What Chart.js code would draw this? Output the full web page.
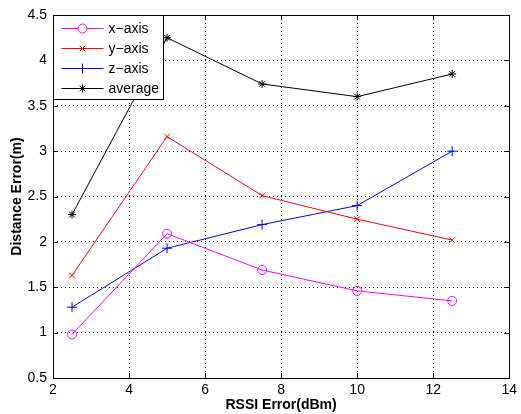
<!DOCTYPE html>
<html>
<head>
<meta charset="utf-8">
<script src="https://cdn.jsdelivr.net/npm/chart.js@4/dist/chart.umd.min.js"></script>
<style>
  html, body { margin: 0; padding: 0; background: #fff; }
  #wrap { width: 521px; height: 414px; }
</style>
</head>
<body>
<div id="wrap"><canvas id="chart" width="521" height="414"></canvas></div>
<script>
// --- DATA ---
const rssiError = [2.5, 5, 7.5, 10, 12.5];
const xAxisErr = [0.98, 2.09, 1.69, 1.46, 1.35];
const yAxisErr = [1.63, 3.16, 2.51, 2.25, 2.02];
const zAxisErr = [1.28, 1.93, 2.19, 2.40, 3.00];
const avgErr = [2.30, 4.25, 3.74, 3.60, 3.85];
const seriesNames = ['x\u2212axis', 'y\u2212axis', 'z\u2212axis', 'average'];
const xTicks = [2, 4, 6, 8, 10, 12, 14];
const yTicks = [0.5, 1, 1.5, 2, 2.5, 3, 3.5, 4, 4.5];

const FONT = '"Liberation Sans", Arial, sans-serif';

function toPoints(vals) {
    return rssiError.map((x, i) => ({ x: x, y: vals[i] }));
}

function makeSet(label, vals, color, style, radius) {
    return {
        label: label,
        data: toPoints(vals),
        borderColor: color,
        backgroundColor: color,
        borderWidth: 1,
        showLine: true,
        pointStyle: style,
        pointRadius: radius,
        pointBorderWidth: 1,
        pointBackgroundColor: 'rgba(0,0,0,0)',
        tension: 0
    };
}

// box, inner ticks and in-plot legend like matlab
const matlabFrame = {
    id: 'matlabFrame',
    afterDraw(chart) {
        const ctx = chart.ctx;
        const a = chart.chartArea;
        const xs = chart.scales.x, ys = chart.scales.y;
        ctx.save();
        ctx.strokeStyle = '#000';
        ctx.lineWidth = 1;
        ctx.setLineDash([]);
        ctx.strokeRect(Math.round(a.left) + 0.5, Math.round(a.top) + 0.5,
            Math.round(a.right - a.left), Math.round(a.bottom - a.top));
        const tl = 5;
        ctx.beginPath();
        xTicks.forEach(v => {
            const px = Math.round(xs.getPixelForValue(v)) + 0.5;
            ctx.moveTo(px, a.bottom); ctx.lineTo(px, a.bottom - tl);
            ctx.moveTo(px, a.top); ctx.lineTo(px, a.top + tl);
        });
        yTicks.forEach(v => {
            const py = Math.round(ys.getPixelForValue(v)) + 0.5;
            ctx.moveTo(a.left, py); ctx.lineTo(a.left + tl, py);
            ctx.moveTo(a.right, py); ctx.lineTo(a.right - tl, py);
        });
        ctx.stroke();

        // legend box
        const bx = Math.round(a.left) + 0.5, by = Math.round(a.top) + 0.5;
        const bw = 110, bh = 84;
        ctx.fillStyle = '#fff';
        ctx.fillRect(bx, by, bw, bh);
        ctx.strokeRect(bx, by, bw, bh);
        ctx.font = '14px ' + FONT;
        ctx.textBaseline = 'middle';
        chart.data.datasets.forEach((ds, i) => {
            const cy = by + 13 + i * 20;
            ctx.strokeStyle = ds.borderColor;
            ctx.beginPath();
            ctx.moveTo(bx + 8, cy); ctx.lineTo(bx + 50, cy);
            ctx.stroke();
            Chart.helpers.drawPoint(ctx, {
                pointStyle: ds.pointStyle, radius: ds.pointRadius, borderWidth: 1
            }, bx + 29, cy);
            ctx.fillStyle = '#000';
            ctx.fillText(ds.label, bx + 55, cy + 1);
        });
        ctx.restore();
    }
};

const gridOpts = { color: '#000', lineWidth: 1, drawTicks: false };

new Chart(document.getElementById('chart'), {
    type: 'scatter',
    data: {
        datasets: [
            makeSet(seriesNames[0], xAxisErr, '#ff00ff', 'circle', 4.5),
            makeSet(seriesNames[1], yAxisErr, '#ff0000', 'crossRot', 4),
            makeSet(seriesNames[2], zAxisErr, '#0000ff', 'cross', 5),
            makeSet(seriesNames[3], avgErr, '#000000', 'star', 4)
        ]
    },
    options: {
        responsive: false,
        animation: false,
        layout: { padding: { top: 15, right: 8, left: 0, bottom: 0 } },
        plugins: { legend: { display: false }, tooltip: { enabled: false } },
        scales: {
            x: {
                type: 'linear', min: 2, max: 14,
                afterBuildTicks: s => { s.ticks = xTicks.map(v => ({ value: v })); },
                afterFit: s => { s.height = 36; },
                grid: gridOpts,
                border: { display: false, dash: [1, 3] },
                ticks: { color: '#000', padding: 4, font: { family: FONT, size: 14 }, callback: v => String(v), maxRotation: 0 },
                title: { display: true, text: 'RSSI Error(dBm)', color: '#000', padding: 0, font: { family: FONT, size: 14, weight: 'bold' } }
            },
            y: {
                type: 'linear', min: 0.5, max: 4.5,
                afterBuildTicks: s => { s.ticks = yTicks.map(v => ({ value: v })); },
                afterFit: s => { s.width = 53; },
                grid: gridOpts,
                border: { display: false, dash: [1, 3] },
                ticks: { color: '#000', padding: 6, font: { family: FONT, size: 14 }, callback: v => String(v) },
                title: { display: true, text: 'Distance Error(m)', color: '#000', padding: { top: 9, bottom: 0 }, font: { family: FONT, size: 14, weight: 'bold' } }
            }
        }
    },
    plugins: [matlabFrame]
});
</script>
</body>
</html>
